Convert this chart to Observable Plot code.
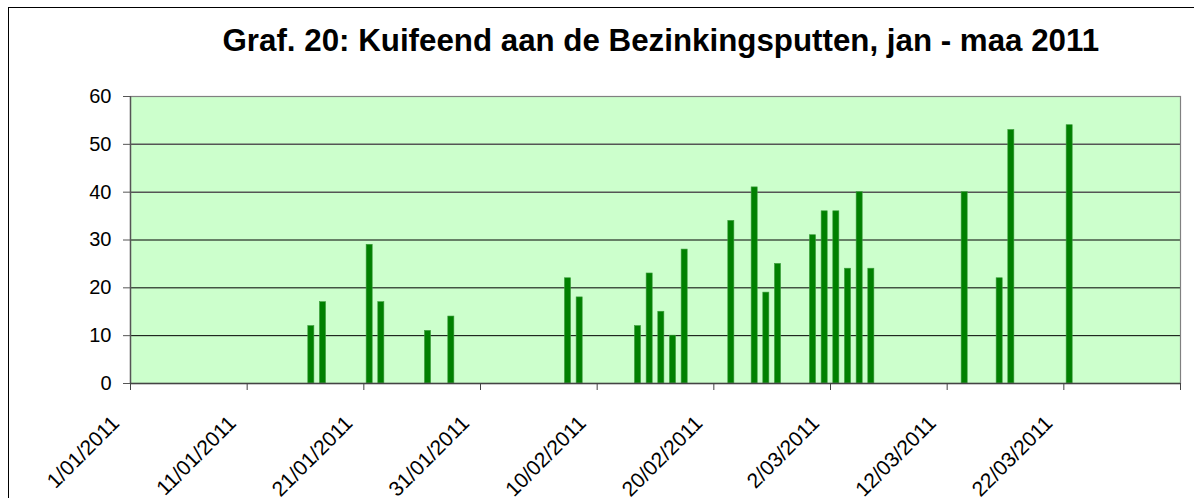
<!DOCTYPE html>
<html>
<head>
<meta charset="utf-8">
<script src="https://cdn.jsdelivr.net/npm/d3@7"></script>
<script src="https://cdn.jsdelivr.net/npm/@observablehq/plot@0.6"></script>
<style>
  html, body { margin: 0; padding: 0; background: #fff; }
  #wrap { position: relative; width: 1194px; height: 498px; overflow: hidden; }
  #border { position: absolute; left: 8px; top: 7px; width: 1300px; height: 600px;
            border-top: 1px solid #000; border-left: 1px solid #000; pointer-events: none; }
</style>
</head>
<body>
<div id="wrap"><div id="border"></div></div>
<script>
const title = "Graf. 20: Kuifeend aan de Bezinkingsputten, jan - maa 2011";

const dates = [
  "2011-01-16", "2011-01-17", "2011-01-21", "2011-01-22", "2011-01-26", "2011-01-28",
  "2011-02-07", "2011-02-08", "2011-02-13", "2011-02-14", "2011-02-15", "2011-02-16",
  "2011-02-17", "2011-02-21", "2011-02-23", "2011-02-24", "2011-02-25", "2011-02-28",
  "2011-03-01", "2011-03-02", "2011-03-03", "2011-03-04", "2011-03-05", "2011-03-13",
  "2011-03-16", "2011-03-17", "2011-03-22"
];
const counts = [
  12, 17, 29, 17, 11, 14,
  22, 18, 12, 23, 15, 10,
  28, 34, 41, 19, 25, 31,
  36, 36, 24, 40, 24, 40,
  22, 53, 54
];

const tickDates = [
  "2011-01-01", "2011-01-11", "2011-01-21", "2011-01-31", "2011-02-10",
  "2011-02-20", "2011-03-02", "2011-03-12", "2011-03-22", "2011-04-01"
];
const tickLabels = [
  "1/01/2011", "11/01/2011", "21/01/2011", "31/01/2011", "10/02/2011",
  "20/02/2011", "2/03/2011", "12/03/2011", "22/03/2011"
];
const yTicks = [0, 10, 20, 30, 40, 50, 60];
const gridValues = [10, 20, 30, 40, 50];

const bars = dates.map((d, i) => {
  const x1 = new Date(d + "T00:00:00Z");
  return { x1, x2: d3.utcDay.offset(x1, 1), value: counts[i] };
});
const tickDateObjs = tickDates.map(d => new Date(d + "T00:00:00Z"));
const labelData = tickLabels.map((label, i) => ({ date: tickDateObjs[i], label }));

const chart = Plot.plot({
  width: 1194,
  height: 498,
  marginLeft: 130,
  marginRight: 14,
  marginTop: 96,
  marginBottom: 115,
  style: { fontFamily: "'Liberation Sans', Arial, sans-serif", background: "transparent", color: "#000", overflow: "visible" },
  x: { type: "utc", domain: [tickDateObjs[0], tickDateObjs[tickDateObjs.length - 1]] },
  y: { domain: [0, 60] },
  marks: [
    Plot.frame({ fill: "#CCFFCC", stroke: null }),
    Plot.ruleY(gridValues, { stroke: d => d >= 40 ? "#555" : "#000", strokeWidth: d => d >= 40 ? 1.5 : 1 }),
    Plot.rectY(bars, {
      x1: "x1", x2: "x2", y: "value",
      fill: "#008000", stroke: "#3c9c3c", strokeWidth: 0.6,
      insetLeft: 2.8, insetRight: 2.8
    }),
    Plot.frame({ stroke: "#808080", strokeWidth: 1.2 }),
    Plot.ruleX([tickDateObjs[0]], { stroke: "#555", strokeWidth: 1.4 }),
    Plot.ruleY([0], { stroke: "#444", strokeWidth: 1.4 }),
    Plot.axisY({
      ticks: yTicks, tickSize: 7, tickPadding: 12, fontSize: 20,
      stroke: "#555", label: null, tickFormat: d => String(d)
    }),
    Plot.axisX({
      ticks: tickDateObjs, tickSize: 7, stroke: "#444", tickFormat: () => "", label: null
    }),
    Plot.text(labelData, {
      x: "date", text: "label", frameAnchor: "bottom",
      rotate: -45, textAnchor: "end", lineAnchor: "bottom",
      dx: -10, dy: 41, fontSize: 21, fill: "#000"
    }),
    Plot.text([title], {
      frameAnchor: "top-left", textAnchor: "start", lineAnchor: "bottom",
      dx: 92, dy: -46, fontSize: 31.3, fontWeight: "bold", fill: "#000"
    })
  ]
});
document.getElementById("wrap").prepend(chart);
</script>
</body>
</html>
